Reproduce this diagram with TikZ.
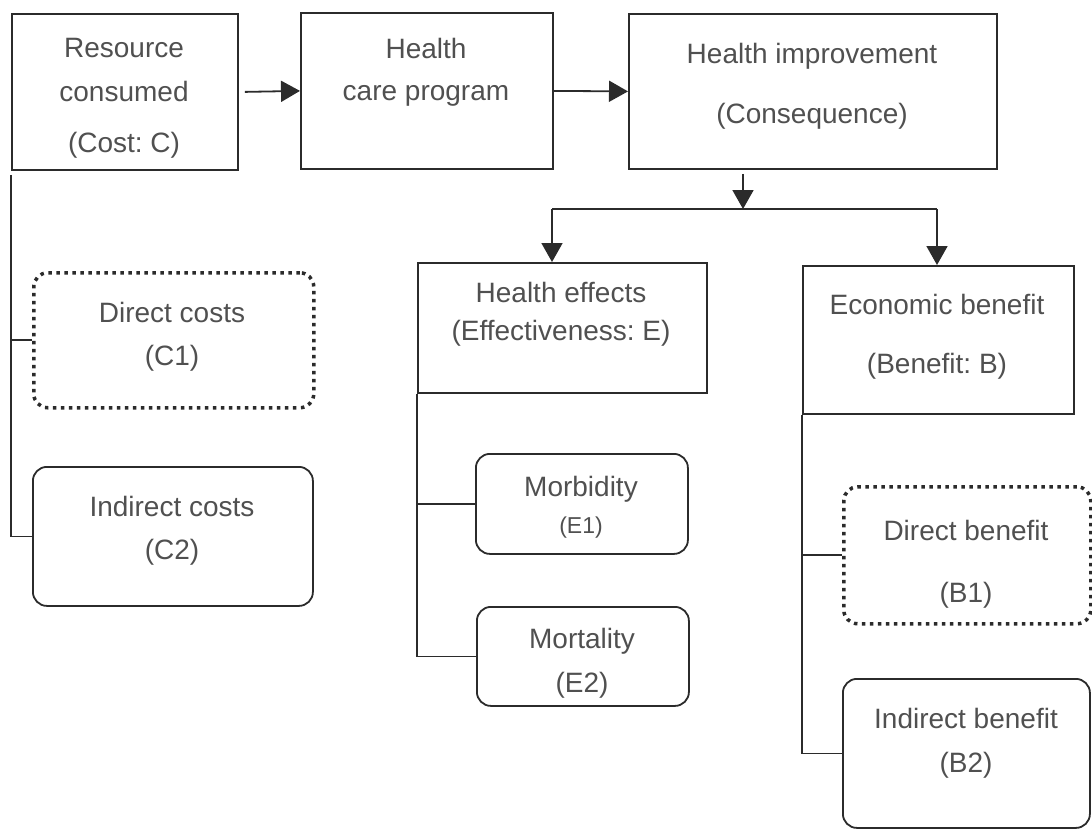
\documentclass[tikz,border=0pt]{standalone}
\usepackage{fontspec}
\setmainfont{Liberation Sans}
\frenchspacing
\usetikzlibrary{arrows.meta}
\definecolor{ink}{HTML}{2B2B2B}
\definecolor{txt}{HTML}{505050}
\tikzset{
  box/.style={draw=ink, line width=1.8pt, inner sep=0pt, anchor=north west},
  rbox/.style={box, rounded corners=14pt},
  dbox/.style={draw=ink, line width=3.5pt, dash pattern=on 3.5pt off 4.5pt, rounded corners=14pt, inner sep=0pt, anchor=north west},
  tx/.style={text=txt, font=\fontsize{28}{33}\selectfont, inner sep=0pt, text height=20pt, text depth=0pt, anchor=center},
  txs/.style={tx, font=\fontsize{23}{28}\selectfont, text height=16pt},
  conn/.style={draw=ink, line width=1.8pt},
  arr/.style={conn, -{Triangle[length=19pt,width=21pt]}},
}
\begin{document}
\begin{tikzpicture}[x=1pt,y=-1pt]
\useasboundingbox (0,0) rectangle (1092,830);
% top row
\node[box, minimum width=226pt, minimum height=156pt] (A) at (11,13) {};
\node[box, minimum width=252pt, minimum height=156pt] (B) at (300,12) {};
\node[box, minimum width=368pt, minimum height=155pt] (C) at (628,13) {};
\node[tx] (tA1) at (124,47) {Resource};
\node[tx] (tA2) at (124,91) {consumed};
\node[tx] (tA3) at (124,142) {(Cost: C)};
\node[tx] (tB1) at (426,48) {Health};
\node[tx] (tB2) at (426,90) {care program};
\node[tx] (tC1) at (812,53) {Health improvement};
\node[tx] (tC2) at (812,113) {(Consequence)};
% second level
\node[box, minimum width=289pt, minimum height=130pt] (E) at (417,262) {};
\node[box, minimum width=271pt, minimum height=148pt] (F) at (802,265) {};
\node[tx] (tE1) at (561,292) {Health effects};
\node[tx] (tE2) at (561,330) {(Effectiveness: E)};
\node[tx] (tF1) at (937,304) {Economic benefit};
\node[tx] (tF2) at (937,363) {(Benefit: B)};
% cost branch
\node[dbox, minimum width=280pt, minimum height=135pt] (C1) at (32,271) {};
\node[rbox, minimum width=280pt, minimum height=139pt] (C2) at (32,466) {};
\node[tx] (tC11) at (172,312) {Direct costs};
\node[tx] (tC12) at (172,355) {(C1)};
\node[tx] (tC21) at (172,506) {Indirect costs};
\node[tx] (tC22) at (172,549) {(C2)};
% effectiveness branch
\node[rbox, minimum width=212pt, minimum height=100pt] (E1) at (475,453) {};
\node[rbox, minimum width=212pt, minimum height=99pt] (E2) at (476,606) {};
\node[tx] (tE11) at (581,486) {Morbidity};
\node[txs] (tE12) at (581,525) {(E1)};
\node[tx] (tE21) at (582,638) {Mortality};
\node[tx] (tE22) at (582,682) {(E2)};
% benefit branch
\node[dbox, minimum width=247pt, minimum height=137pt] (B1) at (842,485) {};
\node[rbox, minimum width=247pt, minimum height=149pt] (B2) at (842,678) {};
\node[tx] (tB11) at (966,530) {Direct benefit};
\node[tx] (tB12) at (966,592) {(B1)};
\node[tx] (tB21) at (966,718) {Indirect benefit};
\node[tx] (tB22) at (966,762) {(B2)};
% connectors
\draw[arr] ([xshift=6pt]A.east) -- (B.west);
\draw[arr] (B.east) -- (C.west);
\coordinate (cd) at ([yshift=-4pt]C.south -| 743,0);
\coordinate (j) at (743,209);
\coordinate (jl) at (552,209);
\coordinate (jr) at (937,209);
\draw[arr] (cd) -- (j);
\draw[conn] (jl) -- (jr);
\draw[arr] (jl) -- (E.north west -| jl);
\draw[arr] (jr) -- (F.north west -| jr);
% cost tree
\coordinate (a0) at ([yshift=-4pt]A.south west);
\draw[conn] (a0) -- (C2.west -| a0) -- (C2.west);
\draw[conn] (C1.west -| a0) -- (C1.west);
% effect tree
\draw[conn] (E.south west) -- (E2.west -| E.south west) -- (E2.west);
\draw[conn] (E1.west -| E.south west) -- (E1.west);
% benefit tree
\draw[conn] (F.south west) -- (B2.west -| F.south west) -- (B2.west);
\draw[conn] (B1.west -| F.south west) -- (B1.west);
\end{tikzpicture}
\end{document}
